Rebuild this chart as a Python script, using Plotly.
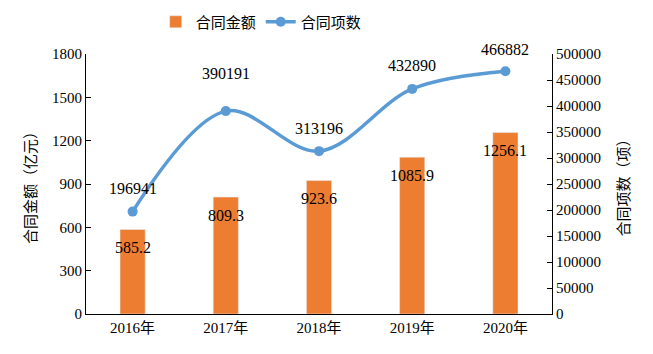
import plotly.graph_objects as go

years = ["2016年", "2017年", "2018年", "2019年", "2020年"]
amount = [585.2, 809.3, 923.6, 1085.9, 1256.1]          # 合同金额（亿元）
count = [196941, 390191, 313196, 432890, 466882]         # 合同项数（项）
amount_labels = ["585.2", "809.3", "923.6", "1085.9", "1256.1"]
count_labels = ["196941", "390191", "313196", "432890", "466882"]

FONT = "Liberation Serif, Noto Sans CJK SC, serif"
BAR = "#ED7D31"
LINE = "#5B9BD5"

fig = go.Figure()
fig.add_trace(go.Bar(x=years, y=amount, name="合同金额", marker_color=BAR,
                     width=0.27, yaxis="y"))
fig.add_trace(go.Scatter(x=years, y=count, name="合同项数", mode="lines+markers",
                         line=dict(color=LINE, width=3.5, shape="spline", smoothing=1.0),
                         marker=dict(size=10, color=LINE), yaxis="y2"))

annos = []
for x, v, t in zip(years, amount, amount_labels):
    annos.append(dict(x=x, y=v, xref="x", yref="y", text=t, showarrow=False,
                      yshift=-18, font=dict(size=16, color="black", family=FONT)))
shifts = [23, 38, 23, 23, 22]
for x, v, t, s in zip(years, count, count_labels, shifts):
    annos.append(dict(x=x, y=v, xref="x", yref="y2", text=t, showarrow=False,
                      yshift=s, font=dict(size=16, color="black", family=FONT)))

fig.update_layout(
    width=653, height=354,
    margin=dict(l=86, r=101, t=54, b=40, autoexpand=False),
    paper_bgcolor="white", plot_bgcolor="white",
    font=dict(family=FONT, size=15, color="black"),
    showlegend=True,
    legend=dict(orientation="h", x=0.40, xanchor="center", xref="container",
                y=1 - 22 / 354, yanchor="middle", yref="container",
                font=dict(size=15, family=FONT), itemwidth=30),
    xaxis=dict(showline=True, linecolor="black", linewidth=1, ticks="",
               tickfont=dict(size=15), showgrid=False),
    yaxis=dict(range=[0, 1800], dtick=300, showline=True, linecolor="black",
               linewidth=1, ticks="inside", ticklen=5, tickcolor="black",
               showgrid=False, zeroline=False, tickfont=dict(size=15),
               automargin=False,
               title=dict(text="合同金额（亿元）", font=dict(size=15), standoff=11)),
    yaxis2=dict(range=[0, 500000], dtick=50000, tickformat="d", overlaying="y",
                side="right", showline=True, linecolor="black", linewidth=1,
                ticks="inside", ticklen=5, tickcolor="black", showgrid=False,
                zeroline=False, tickfont=dict(size=15), automargin=False,
                title=dict(text="合同项数（项）", font=dict(size=15), standoff=18)),
    annotations=annos,
)

fig.write_html("out.html")
